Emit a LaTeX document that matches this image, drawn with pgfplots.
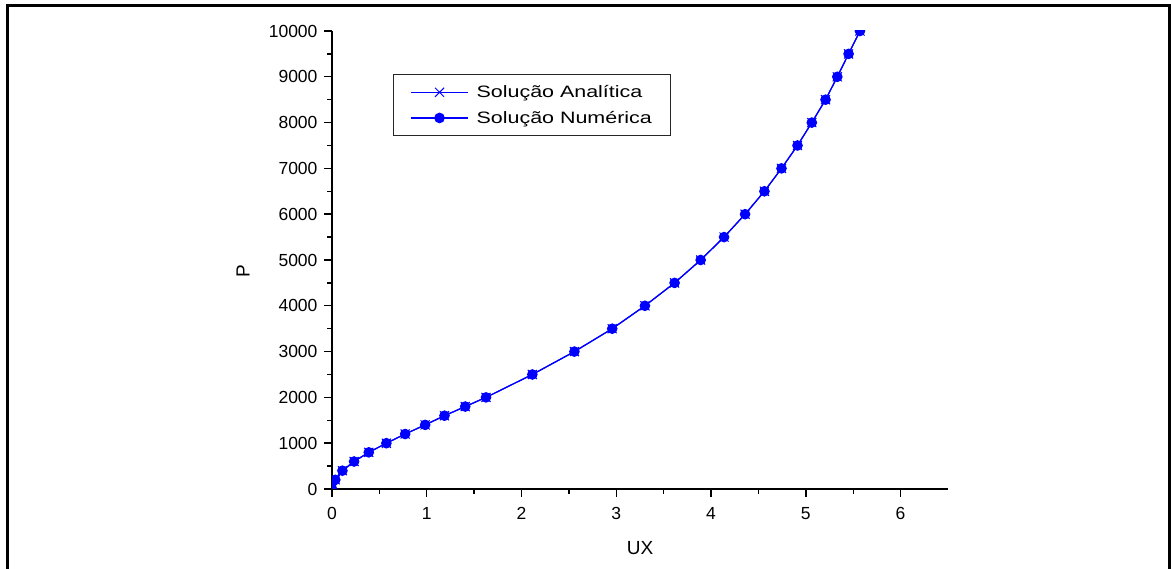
\documentclass[border=0pt]{standalone}
\usepackage{pgfplots}
\pgfplotsset{compat=1.18}
\usepackage{fontspec}
\setmainfont{Liberation Sans}
\newfontfamily\legfont[FakeStretch=1.3]{Liberation Sans}

% load P against displacement UX
\pgfplotstableread{
ux     p
0.000  0
0.035  200
0.110  400
0.233  600
0.388  800
0.574  1000
0.772  1200
0.983  1400
1.187  1600
1.406  1800
1.625  2000
2.114  2500
2.558  3000
2.957  3500
3.302  4000
3.615  4500
3.890  5000
4.137  5500
4.359  6000
4.563  6500
4.743  7000
4.912  7500
5.063  8000
5.208  8500
5.332  9000
5.451  9500
5.571  10000
}\analitica
\pgfplotstableread{
ux     p
0.000  0
0.035  200
0.110  400
0.233  600
0.388  800
0.574  1000
0.772  1200
0.983  1400
1.187  1600
1.406  1800
1.625  2000
2.114  2500
2.558  3000
2.957  3500
3.302  4000
3.615  4500
3.890  5000
4.137  5500
4.359  6000
4.563  6500
4.743  7000
4.912  7500
5.063  8000
5.208  8500
5.332  9000
5.451  9500
5.571  10000
}\numerica

\begin{document}
\begin{tikzpicture}[x=1pt,y=1pt]
\useasboundingbox (0,0) rectangle (1171,569);
\draw[line width=3pt] (7,0) -- (7,563) -- (1169,563) -- (1169,0);
\begin{axis}[
  at={(332pt,80pt)}, anchor=south west,
  scale only axis, width=616pt, height=458pt,
  xmin=0, xmax=6.5, ymin=0, ymax=10000,
  axis x line*=bottom, axis y line*=left,
  axis line style={-, line width=1.4pt},
  xtick={0,1,...,6}, ytick={0,1000,...,10000},
  minor x tick num=1, minor y tick num=1,
  tick align=outside,
  major tick length=8pt, minor tick length=5pt,
  every tick/.style={black, line width=1.4pt},
  scaled y ticks=false,
  /pgf/number format/assume math mode=true,
  /pgf/number format/1000 sep={},
  tick label style={font=\fontsize{17.5}{21}\selectfont},
  xticklabel style={yshift=-7pt},
  yticklabel style={xshift=-3pt},
  xlabel={UX}, ylabel={P},
  label style={font=\fontsize{19}{23}\selectfont},
  xlabel style={at={(axis description cs:0.5,-0.129)}, anchor=center},
  ylabel style={at={(axis description cs:-0.1445,0.475)}, anchor=center, rotate=0},
  clip marker paths=true,
  legend style={at={(axis description cs:0.099,0.906)}, anchor=north west,
    draw=black!85, line width=0.9pt, inner xsep=17pt, inner ysep=9pt,
    font=\legfont\fontsize{16.5}{20}\selectfont, row sep=8pt},
  legend cell align=left,
  legend image code/.code={%
    \draw[mark repeat=2,mark phase=2,#1] plot coordinates {(0pt,0pt) (28.5pt,0pt) (57pt,0pt)};
    \path (63pt,0pt);},
]
\addplot[blue, line width=1.2pt, mark=x, mark size=6.4pt,
  mark options={line width=1pt, draw=blue}] table[x=ux,y=p] {\analitica};
\addlegendentry{Solução Analítica}
\addplot[blue, line width=1.2pt, mark=*, mark size=4.7pt,
  mark options={fill=blue, draw=blue}] table[x=ux,y=p] {\numerica};
\addlegendentry{Solução Numérica}
\end{axis}
\end{tikzpicture}
\end{document}
